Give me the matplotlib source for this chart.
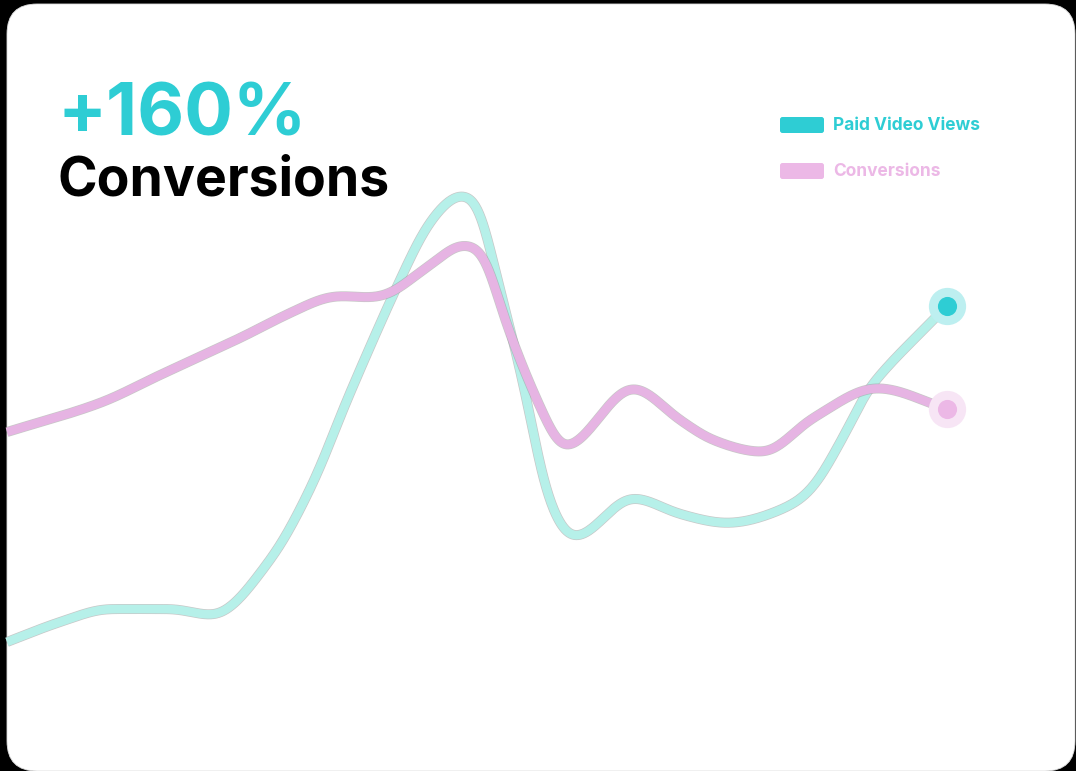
import numpy as np
import matplotlib
matplotlib.use("Agg")
import matplotlib.pyplot as plt
import matplotlib.patheffects as pe
from matplotlib.patches import FancyBboxPatch

# readings from the picture (x position, value as screen height; y axis is inverted)
views_x = [7, 60, 110, 170, 212, 270, 313, 347, 400, 430, 462, 480, 495, 508, 527, 543, 560, 575,
           633, 680, 727, 780, 813, 847, 870, 947]
views_y = [642, 622, 609, 609, 615, 560, 483, 400, 280, 222, 195, 210, 270, 320, 400, 480, 525, 537,
           498, 514, 523, 510, 487, 430, 387, 306]

conv_x = [7, 100, 160, 240, 290, 330, 385, 430, 463, 485, 505, 537, 565,
          633, 680, 713, 763, 813, 877, 947]
conv_y = [432, 403, 375, 338, 313, 297, 295, 265, 245, 258, 320, 400, 447,
          388, 420, 440, 452, 418, 388, 409]

series_names = ["Paid Video Views", "Conversions"]
headline = "+160%"
subtitle = "Conversions"

TEAL = "#2ecdd4"
TEAL_LINE = "#b6f0e9"
PINK = "#ecb8e6"
PINK_LINE = "#e6b4e3"


def smooth_curve(x, y, xs):
    # cubic hermite, catmull-rom slopes, flat at turning points
    x = np.asarray(x, float)
    y = np.asarray(y, float)
    h = np.diff(x)
    d = np.diff(y) / h
    m = np.zeros_like(y)
    for k in range(1, len(x) - 1):
        if d[k - 1] * d[k] > 0:
            m[k] = (y[k + 1] - y[k - 1]) / (x[k + 1] - x[k - 1])
    m[0] = d[0]
    m[-1] = d[-1]
    idx = np.clip(np.searchsorted(x, xs) - 1, 0, len(h) - 1)
    t = (xs - x[idx]) / h[idx]
    h00 = 2 * t**3 - 3 * t**2 + 1
    h10 = t**3 - 2 * t**2 + t
    h01 = -2 * t**3 + 3 * t**2
    h11 = t**3 - t**2
    yy = h00 * y[idx] + h10 * h[idx] * m[idx] + h01 * y[idx + 1] + h11 * h[idx] * m[idx + 1]

    # soften the curvature jumps at the knots with a small gaussian blur
    step = xs[1] - xs[0]
    sig = 7.0 / step
    half = int(4 * sig)
    k = np.exp(-0.5 * (np.arange(-half, half + 1) / sig) ** 2)
    k /= k.sum()
    left = yy[0] - (yy[1] - yy[0]) * np.arange(half, 0, -1)
    right = yy[-1] + (yy[-1] - yy[-2]) * np.arange(1, half + 1)
    return np.convolve(np.concatenate([left, yy, right]), k, mode="valid")


fig = plt.figure(figsize=(10.76, 7.71), dpi=100, facecolor="black")
ax = fig.add_axes([0, 0, 1, 1])
ax.set_xlim(0, 1076)
ax.set_ylim(771, 0)
ax.axis("off")
ax.set_facecolor("black")

card = FancyBboxPatch((7, 4), 1068, 767, boxstyle="round,pad=0,rounding_size=30",
                      facecolor="white", edgecolor="#dddddd", linewidth=0.6, zorder=0)
ax.add_patch(card)

outline = [pe.Stroke(linewidth=7.2, foreground="#9a9a9a", alpha=0.55), pe.Normal()]

for xs_, ys_, col, dot, halo in [(views_x, views_y, TEAL_LINE, TEAL, "#bdeff0"),
                                 (conv_x, conv_y, PINK_LINE, PINK, "#f7e5f5")]:
    xx = np.linspace(xs_[0], xs_[-1], 1500)
    yy = smooth_curve(xs_, ys_, xx)
    ax.plot(xx, yy, color=col, linewidth=6.2, solid_capstyle="butt",
            path_effects=outline, zorder=2)
    ax.scatter([xs_[-1]], [ys_[-1]], s=720, color=halo, zorder=3, linewidths=0)
    ax.scatter([xs_[-1]], [ys_[-1]], s=190, color=dot, zorder=4, linewidths=0)

ax.text(58, 135, headline, color=TEAL, fontsize=52, fontweight="bold",
        family=["Inter", "DejaVu Sans"], va="baseline", ha="left")
ax.text(57, 196, subtitle, color="black", fontsize=38.5, fontweight="bold",
        family=["Inter", "DejaVu Sans"], va="baseline", ha="left")

for i, (name, col) in enumerate(zip(series_names, [TEAL, PINK])):
    yc = 125 + i * 46
    ax.add_patch(FancyBboxPatch((780, yc - 8), 44, 16, boxstyle="round,pad=0,rounding_size=2.5",
                                facecolor=col, edgecolor="none", zorder=3))
    ax.text(833, yc + 0.5, name, color=col, fontsize=12.5, fontweight="bold",
            family=["Inter", "DejaVu Sans"], va="center", ha="left")

fig.savefig("out.png", dpi=100, facecolor="black")
